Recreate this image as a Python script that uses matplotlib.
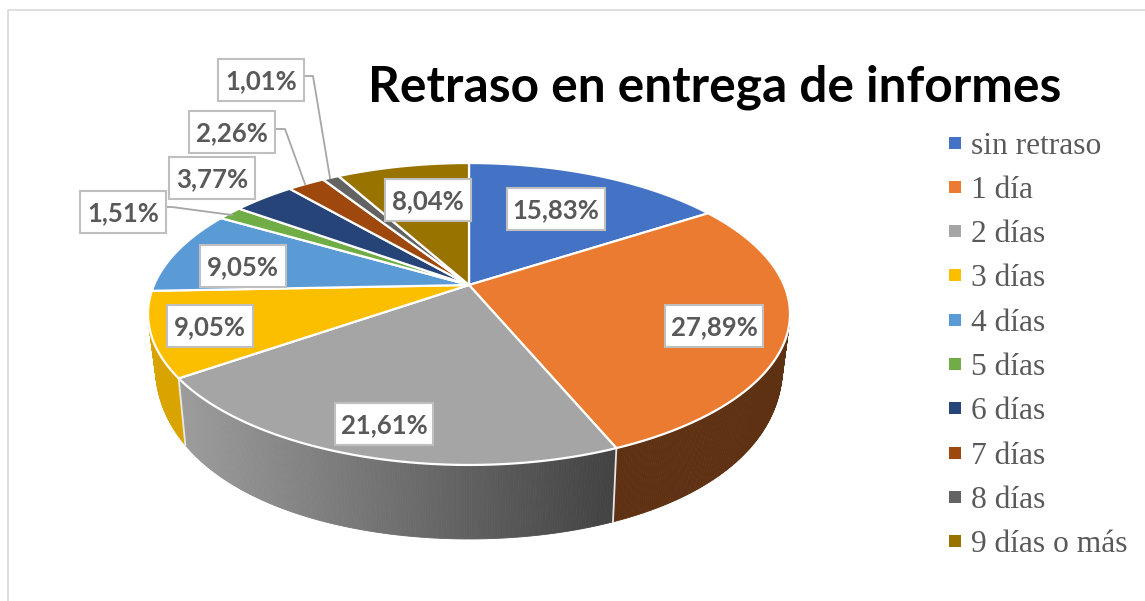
import numpy as np
import matplotlib
matplotlib.use('Agg')
from matplotlib import pyplot as plt
from matplotlib.lines import Line2D
from matplotlib.patches import Rectangle
from matplotlib.colors import to_rgb

plt.rcParams['font.family'] = ['Lato', 'DejaVu Sans']

# datos
categorias = ['sin retraso', '1 día', '2 días', '3 días', '4 días', '5 días',
              '6 días', '7 días', '8 días', '9 días o más']
valores = [15.83, 27.89, 21.61, 9.05, 9.05, 1.51, 3.77, 2.26, 1.01, 8.04]
colores = ['#4472C4', '#EB7B30', '#A5A5A5', '#FCBF00', '#5B9BD5', '#70AD47',
           '#264478', '#9E480E', '#636363', '#997300']
colores_lado = ['#2f4f88', '#5F3113', '#808080', '#D9A300', '#3f6c94', '#4e7831',
                '#1a2f53', '#6e320a', '#454545', '#6a5000']

# centro de cada etiqueta en pixeles
pos_etiquetas = [(556, 209), (714, 326), (384, 424), (210, 326), (243, 266),
                 (123, 212), (212, 178), (232, 132), (261, 80), (428, 200)]
guias = {5: [(165, 207), (172, 207), (232, 215)],
         7: [(275, 129), (285, 129), (305, 184)],
         8: [(303, 76), (313, 76), (330, 178)]}

# perspectiva de la tapa
cx, cy = 469, 285
a, b, k = 315, 145.4, 0.192


def tapa(t):
    u, v = np.sin(t), np.cos(t)
    w = 1 + k * v
    return cx + a * u / w, cy - b * v / w


def base(x, y):
    # el borde inferior se cierra un poco hacia el centro
    y = np.maximum(y, 300)
    return cx + (x - cx) * 0.977, y + 74 - 0.00097 * (465 - y) ** 2


fig = plt.figure(figsize=(11.45, 6.01), dpi=100)
ax = fig.add_axes([0, 0, 1, 1])
ax.set_xlim(0, 1145)
ax.set_ylim(601, 0)
ax.axis('off')

# marco
ax.plot([1145, 8, 8], [9.5, 9.5, 601], color='#d9d9d9', lw=1.2)

total = sum(valores)
bordes = np.concatenate([[0], np.cumsum(valores)]) / total * 2 * np.pi

# lados
for i in range(len(valores)):
    n = max(int((bordes[i + 1] - bordes[i]) * 150), 2)
    ts = np.linspace(bordes[i], bordes[i + 1], n + 1)
    x1, y1 = tapa(ts)
    x2, y2 = base(x1, y1)
    for j in range(n):
        c = colores_lado[i]
        if i == 2:
            # degradado del lado gris
            f = (x1[j] - 180) / (612 - 180)
            c = np.array(to_rgb('#9c9c9c')) * (1 - f) + np.array(to_rgb('#434343')) * f
        ax.fill([x1[j], x1[j + 1], x2[j + 1], x2[j]],
                [y1[j], y1[j + 1], y2[j + 1], y2[j]],
                color=c, lw=0.6, zorder=2)

for t in bordes[2:4]:
    x1, y1 = tapa(t)
    x2, y2 = base(x1, y1)
    ax.plot([x1, x2], [y1, y2], color='#e8e8e8', lw=1.3, zorder=3)

# tapa
for i in range(len(valores)):
    ts = np.linspace(bordes[i], bordes[i + 1], 120)
    x1, y1 = tapa(ts)
    ax.fill(np.r_[cx, x1], np.r_[cy, y1], facecolor=colores[i], edgecolor='white',
            lw=1.6, joinstyle='round', zorder=4)

# guias
for xy in guias.values():
    ax.plot(*zip(*xy), color='#a6a6a6', lw=1.3, zorder=5)

# etiquetas
for v, (x, y) in zip(valores, pos_etiquetas):
    txt = f'{v:.2f}%'.replace('.', ',')
    ancho = 98 if len(txt) > 5 else 86
    ax.add_patch(Rectangle((x - ancho / 2, y - 21), ancho, 42, fc='white', ec='#bfbfbf',
                           lw=1.5, zorder=6))
    ax.text(x, y + 1.5, txt, ha='center', va='center', fontsize=18.5,
            fontweight='bold', color='#595959', zorder=7)

ax.text(715, 87, 'Retraso en entrega de informes', ha='center', va='center',
        fontsize=35.7, fontweight='bold', color='black', zorder=6)

# leyenda
marcas = [Line2D([], [], ls='none', marker='s', ms=8, mew=0, color=c) for c in colores]
ax.legend(marcas, categorias, loc='upper left', bbox_to_anchor=(0.8285, 0.781), frameon=False,
          prop=dict(family='Liberation Serif', size=22.7), labelcolor='#595959',
          labelspacing=0.482, borderpad=0, borderaxespad=0, handlelength=0.4,
          handletextpad=0.32)

fig.savefig('out.png', dpi=100)
